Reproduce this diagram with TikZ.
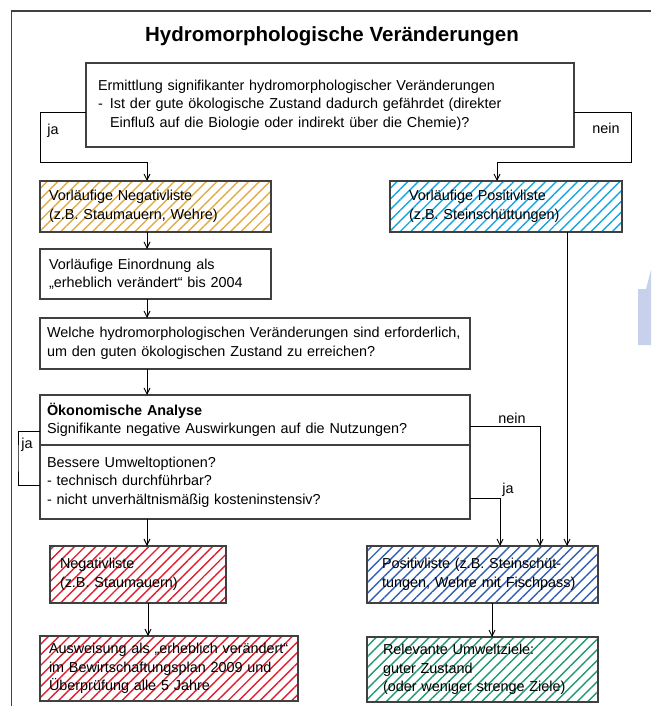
\documentclass[tikz,border=0pt]{standalone}
\usepackage{fontspec}
\setmainfont{Liberation Sans}
\usetikzlibrary{arrows.meta,patterns.meta}
\definecolor{boxgray}{HTML}{404040}
\definecolor{hatchorange}{HTML}{E2AB45}
\definecolor{hatchcyan}{HTML}{14A6E4}
\definecolor{hatchred}{HTML}{E01E30}
\definecolor{hatchblue}{HTML}{3260B6}
\definecolor{hatchgreen}{HTML}{22996F}
\definecolor{decoblue}{HTML}{C7D1EC}
\begin{document}
\begin{tikzpicture}[x=1pt,y=-1pt,
	box/.style={draw=boxgray, line width=1.2pt, anchor=north west, outer sep=0pt, inner ysep=0pt, align=left, font=\fontsize{14.4}{18.5}\selectfont},
	hatch/.style={box, pattern={Lines[angle=45,distance=7.5pt,line width=1.4pt]}, pattern color=#1},
	arr/.style={draw=black, line width=0.9pt, -{Straight Barb[length=6pt,width=6pt]}},
	lnk/.style={draw=black, line width=0.9pt},
	lbl/.style={font=\fontsize{14.4}{17}\selectfont, inner sep=0pt}]
	\useasboundingbox (0,0) rectangle (651,706);
	\draw[boxgray, line width=1.2pt] (11.5,706) -- (11.5,11) -- (651,11);
	\fill[decoblue] (638,289) -- (646,289) -- (651,270) -- (651,345) -- (638,345) -- cycle;
	\node[font=\fontsize{20.5}{24}\bfseries\selectfont] (titel) at (332,36) {Hydromorphologische Veränderungen};
	\node[box, minimum height=84pt, text width=464pt, inner xsep=12pt] (ermitt) at (86,63) {Ermittlung signifikanter hydromorphologischer Veränderungen\\\makebox[12pt][l]{-}Ist der gute ökologische Zustand dadurch gefährdet (direkter\\\hspace*{12pt}Einfluß auf die Biologie oder indirekt über die Chemie)?};
	\node[hatch=hatchorange, minimum height=51pt, text width=213pt, inner xsep=9pt] (vneg) at (40,181) {Vorläufige Negativliste\\(z.B. Staumauern, Wehre)};
	\node[hatch=hatchcyan, minimum height=51pt, text width=194pt, inner xsep=19pt] (vpos) at (390,181) {Vorläufige Positivliste\\(z.B. Steinschüttungen)};
	\node[box, minimum height=50pt, text width=213pt, inner xsep=9pt] (einord) at (40,249) {Vorläufige Einordnung als\\„erheblich verändert“ bis 2004};
	\node[box, minimum height=51pt, text width=416pt, inner xsep=7pt] (welche) at (40,318) {Welche hydromorphologischen Veränderungen sind erforderlich,\\um den guten ökologischen Zustand zu erreichen?};
	\node[box, minimum height=50pt, text width=416pt, inner xsep=7pt] (oekonA) at (40,395) {\textbf{Ökonomische Analyse}\\Signifikante negative Auswirkungen auf die Nutzungen?};
	\node[box, minimum height=74pt, text width=416pt, inner xsep=7pt] (oekonB) at (40,445) {Bessere Umweltoptionen?\\- technisch durchführbar?\\- nicht unverhältnismäßig kosteninstensiv?};
	\node[hatch=hatchred, minimum height=57pt, text width=156pt, inner xsep=10pt] (neg) at (50,546) {Negativliste\\(z.B. Staumauern)};
	\node[hatch=hatchblue, minimum height=57pt, text width=201pt, inner xsep=15pt] (pos) at (367,546) {Positivliste (z.B. Steinschüt-\\tungen, Wehre mit Fischpass)};
	\node[hatch=hatchred, minimum height=65pt, text width=240pt, inner xsep=9pt] (ausw) at (40,636) {Ausweisung als „erheblich verändert“\\im Bewirtschaftungsplan 2009 und\\Überprüfung alle 5 Jahre};
	\node[hatch=hatchgreen, minimum height=65pt, text width=199pt, inner xsep=16pt] (rel) at (367,637) {Relevante Umweltziele:\\guter Zustand\\(oder weniger strenge Ziele)};
	\coordinate (bendja) at (40,162);
	\coordinate (bendnein) at (631,162);
	\coordinate (jaloop) at (18,458);
	\draw[arr] ([yshift=-7pt]ermitt.west) -| (bendja) -| ([xshift=-8.5pt]vneg.north);
	\draw[arr] ([yshift=-7pt]ermitt.east) -| (bendnein) -| ([xshift=-9pt]vpos.north);
	\node[lbl] (lja1) at (53,131) {ja};
	\node[lbl] (lnein1) at (606,128) {nein};
	\draw[arr] ([xshift=-8.5pt]vneg.south) -- ([xshift=-8.5pt]einord.north);
	\draw[arr] ([xshift=-8.5pt]einord.south) -- ([xshift=-108pt]welche.north);
	\draw[arr] ([xshift=-108pt]welche.south) -- ([xshift=-108pt]oekonA.north);
	\draw[arr] ([xshift=-108pt]oekonB.south) -- ([xshift=9pt]neg.north);
	\draw[arr] ([xshift=10pt]neg.south) -- ([xshift=-21pt]ausw.north);
	\draw[arr] ([xshift=9.5pt]pos.south) -- ([xshift=9.5pt]rel.north);
	\draw[arr] ([xshift=61pt]vpos.south) -- ([xshift=84.5pt]pos.north);
	\draw[arr] ([yshift=-6pt]oekonA.east) -| node[lbl, pos=0.3, above, yshift=2pt] (lnein2) {nein} ([xshift=57.5pt]pos.north);
	\draw[arr] ([yshift=-16pt]oekonB.east) -| node[lbl, anchor=south west, xshift=2pt, yshift=1pt] (lja2) {ja} ([xshift=17.5pt]pos.north);
	\draw[lnk] ([yshift=-11pt]oekonA.west) -| (jaloop) |- ([yshift=-3pt]oekonB.west);
	\node[lbl] (lja3) at (27,445) {ja};
\end{tikzpicture}
\end{document}
